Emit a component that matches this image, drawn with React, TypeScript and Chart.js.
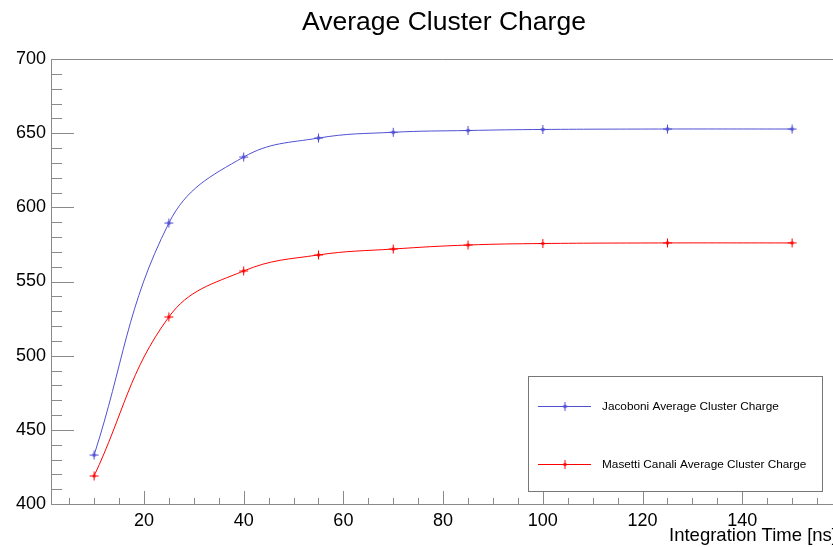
import React, { useEffect, useRef } from "react";
import { Chart, registerables } from "chart.js";

Chart.register(...registerables);

// Integration time settings [ns]
const integrationTimes = [10, 25, 40, 55, 70, 85, 100, 125, 150];
// Average cluster charge per model
const jacoboniCharge = [433.0, 589.4, 633.9, 646.7, 650.6, 651.8, 652.5, 652.8, 652.8];
const masettiCharge = [418.9, 526.1, 557.1, 567.9, 571.9, 574.6, 575.6, 576.0, 576.0];

const xTickValues = [20, 40, 60, 80, 100, 120, 140];
const yTickValues = [400, 450, 500, 550, 600, 650, 700];

const seriesNames = [
  "Jacoboni Average Cluster Charge",
  "Masetti Canali Average Cluster Charge",
];
const titleText = "Average Cluster Charge";
const xAxisTitle = "Integration Time [ns]";

const BLUE = "rgb(80,80,210)";
const RED = "rgb(255,0,0)";
const FRAME = "#8a8a8a";
const FONT = "'Liberation Sans', Arial, Helvetica, sans-serif";

function makeMarker(color: string, open: boolean): HTMLCanvasElement {
  const c = document.createElement("canvas");
  c.width = 11;
  c.height = 11;
  const g = c.getContext("2d")!;
  const m = 5.5;
  g.strokeStyle = color;
  g.fillStyle = color;
  g.lineWidth = 1;
  g.beginPath();
  g.moveTo(m - 4.5, m);
  g.lineTo(m + 4.5, m);
  g.moveTo(m, m - 4.5);
  g.lineTo(m, m + 4.5);
  g.stroke();
  g.beginPath();
  g.moveTo(m, m - 2.2);
  g.lineTo(m + 2.2, m);
  g.lineTo(m, m + 2.2);
  g.lineTo(m - 2.2, m);
  g.closePath();
  if (open) g.stroke();
  else g.fill();
  return c;
}

export default function App() {
  const ref = useRef<HTMLCanvasElement | null>(null);

  useEffect(() => {
    if (!ref.current) return;
    const blueMarker = makeMarker(BLUE, true);
    const redMarker = makeMarker(RED, false);

    const framePlugin = {
      id: "frameAndDecor",
      afterDraw(chart: any) {
        const { ctx, chartArea } = chart;
        const xs = chart.scales.x;
        const ys = chart.scales.y;
        const { left, right, top, bottom } = chartArea;
        ctx.save();
        // frame
        ctx.strokeStyle = FRAME;
        ctx.lineWidth = 1;
        ctx.beginPath();
        ctx.moveTo(left + 0.5, bottom + 0.5);
        ctx.lineTo(left + 0.5, top + 0.5);
        ctx.lineTo(right, top + 0.5);
        ctx.moveTo(left + 0.5, bottom + 0.5);
        ctx.lineTo(right, bottom + 0.5);
        ctx.stroke();
        // x ticks (inside)
        ctx.beginPath();
        for (let v = 5; v <= 160; v += 5) {
          const px = Math.round(xs.getPixelForValue(v)) + 0.5;
          if (px < left || px > right) continue;
          const len = v % 20 === 0 ? 13 : 6;
          ctx.moveTo(px, bottom);
          ctx.lineTo(px, bottom - len);
        }
        // y ticks (inside)
        for (let v = 400; v <= 700; v += 10) {
          const py = Math.round(ys.getPixelForValue(v)) + 0.5;
          const len = v % 50 === 0 ? 23 : 11;
          ctx.moveTo(left, py);
          ctx.lineTo(left + len, py);
        }
        ctx.stroke();

        // title
        ctx.fillStyle = "#000";
        ctx.font = `26.5px ${FONT}`;
        ctx.textAlign = "center";
        ctx.textBaseline = "alphabetic";
        ctx.fillText(titleText, 444, 30);

        // x axis title
        ctx.font = `18.5px ${FONT}`;
        ctx.textAlign = "right";
        ctx.fillText(xAxisTitle, 837, 541);

        // legend
        ctx.strokeStyle = "#777";
        ctx.strokeRect(528.5, 376.5, 294, 115);
        const rows = [
          { y: 406, color: BLUE, marker: blueMarker, name: seriesNames[0] },
          { y: 464, color: RED, marker: redMarker, name: seriesNames[1] },
        ];
        ctx.font = `11.8px ${FONT}`;
        ctx.textAlign = "left";
        ctx.textBaseline = "middle";
        for (const r of rows) {
          ctx.strokeStyle = r.color;
          ctx.beginPath();
          ctx.moveTo(538, r.y + 0.5);
          ctx.lineTo(591, r.y + 0.5);
          ctx.stroke();
          ctx.drawImage(r.marker, 565 - 5.5, r.y + 0.5 - 5.5);
          ctx.fillStyle = "#000";
          ctx.fillText(r.name, 602, r.y + 1);
        }
        ctx.restore();
      },
    };

    const chart = new Chart(ref.current, {
      type: "line",
      data: {
        labels: integrationTimes,
        datasets: [
          {
            label: seriesNames[0],
            data: integrationTimes.map((x, i) => ({ x, y: jacoboniCharge[i] })),
            borderColor: BLUE,
            backgroundColor: BLUE,
            borderWidth: 1,
            pointStyle: blueMarker as any,
            tension: 0.4,
            fill: false,
          },
          {
            label: seriesNames[1],
            data: integrationTimes.map((x, i) => ({ x, y: masettiCharge[i] })),
            borderColor: RED,
            backgroundColor: RED,
            borderWidth: 1,
            pointStyle: redMarker as any,
            tension: 0.4,
            fill: false,
          },
        ],
      },
      options: {
        responsive: false,
        animation: false,
        layout: { autoPadding: false, padding: { top: 59, left: 0, right: 0, bottom: 0 } },
        plugins: {
          legend: { display: false },
          title: { display: false },
          tooltip: { enabled: false },
        },
        scales: {
          x: {
            type: "linear",
            min: 1.36,
            max: 158.2,
            grid: { display: false, drawTicks: false },
            border: { display: false },
            afterBuildTicks: (s: any) => {
              s.ticks = xTickValues.map((value) => ({ value }));
            },
            afterFit: (s: any) => {
              s.height = 43;
            },
            ticks: {
              color: "#000",
              font: { family: FONT, size: 18 },
              padding: 6,
              maxRotation: 0,
              autoSkip: false,
            },
          },
          y: {
            type: "linear",
            min: 400,
            max: 700,
            grid: { display: false, drawTicks: false },
            border: { display: false },
            afterBuildTicks: (s: any) => {
              s.ticks = yTickValues.map((value) => ({ value }));
            },
            afterFit: (s: any) => {
              s.width = 51;
            },
            ticks: {
              color: "#000",
              font: { family: FONT, size: 18 },
              padding: 5,
              autoSkip: false,
            },
          },
        },
      } as any,
      plugins: [framePlugin],
    });

    return () => chart.destroy();
  }, []);

  return (
    <div style={{ position: "absolute", left: 0, top: 0, width: 833, height: 547, background: "#fff" }}>
      <canvas ref={ref} width={833} height={547} />
    </div>
  );
}
